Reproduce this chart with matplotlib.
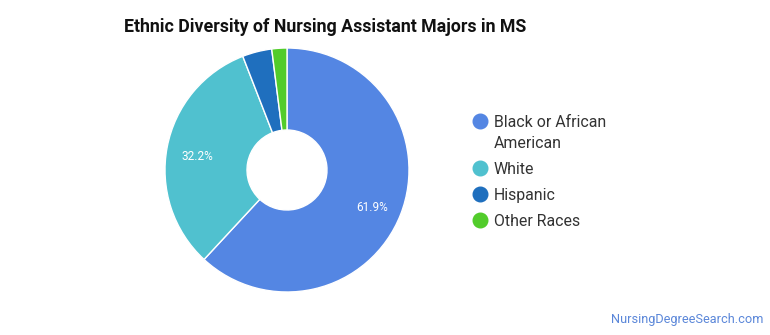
import matplotlib
matplotlib.use("Agg")
import matplotlib.pyplot as plt
from matplotlib.lines import Line2D
import numpy as np

plt.rcParams['font.family'] = ['Roboto', 'DejaVu Sans']

categories = ["Black or African\nAmerican", "White", "Hispanic", "Other Races"]
values = [61.9, 32.2, 3.9, 2.0]
pct_labels = ["61.9%", "32.2%", "", ""]
colors = ["#5486E3", "#50C1CF", "#1F6FBE", "#52CC2B"]

W, H = 770, 335
fig = plt.figure(figsize=(W / 100, H / 100), dpi=100)

cx, cy, R = 287, 170, 122
ax = fig.add_axes([(cx - R) / W, (H - cy - R) / H, 2 * R / W, 2 * R / H])
wedges, _ = ax.pie(values, colors=colors, startangle=90, counterclock=False,
                   radius=1.0, wedgeprops=dict(width=1 - 40 / 122, edgecolor='white', linewidth=1))
total = sum(values)
cum = 0
for v, lab in zip(values, pct_labels):
    mid = 90 - (cum + v / 2) / total * 360
    cum += v
    if lab:
        r = 0.75
        ax.text(r * np.cos(np.radians(mid)), r * np.sin(np.radians(mid)) - 0.02, lab,
                ha='center', va='center_baseline', color='white', fontsize=8.5)
ax.set_xlim(-1, 1)
ax.set_ylim(-1, 1)
ax.set_aspect('equal')
ax.axis('off')

fig.text(124 / W, 1 - 27 / H, "Ethnic Diversity of Nursing Assistant Majors in MS",
         ha='left', va='center', fontsize=12.8, fontweight='bold', color='#111111')

# legend drawn manually for exact spacing
y = 121
for cat, c in zip(categories, colors):
    fig.add_artist(Line2D([480 / W], [1 - y / H], marker='o', linestyle='none', markersize=10.5,
                          markerfacecolor=c, markeredgecolor=c, transform=fig.transFigure))
    fig.text(494 / W, 1 - (y - 6) / H, cat, ha='left', va='top', fontsize=11.4,
             color='#333333', linespacing=1.48)
    y += 26 + 21 * cat.count("\n")

fig.text(763 / W, 1 - 320 / H, "NursingDegreeSearch.com", ha='right', va='center',
         fontsize=9.2, color='#5B87D9')

fig.savefig("out.png", dpi=100, facecolor='white')
